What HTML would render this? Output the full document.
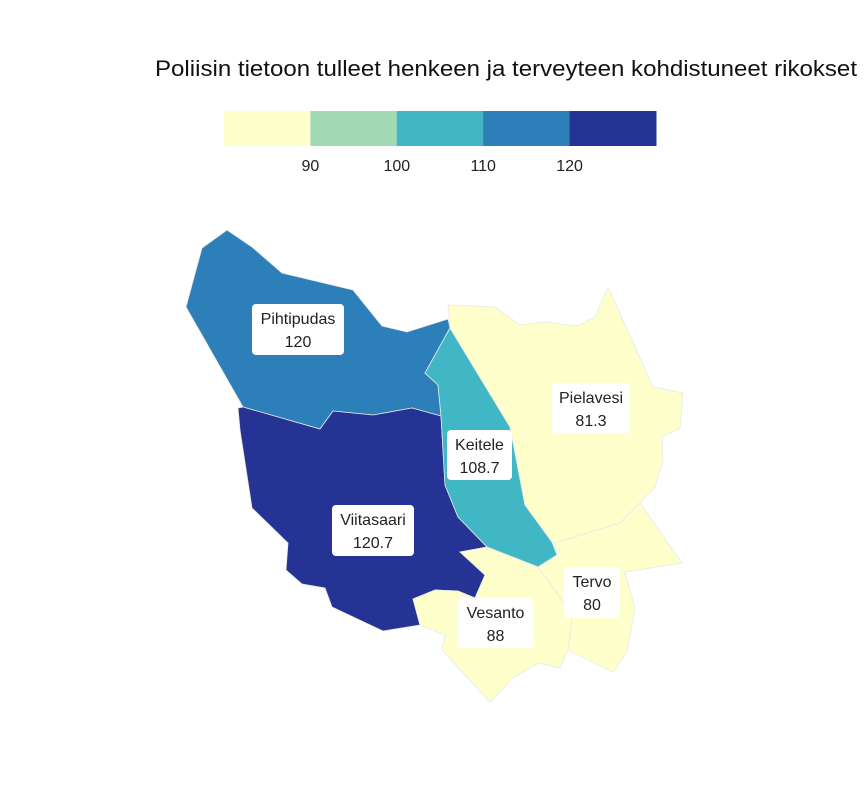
<!DOCTYPE html>
<html><head><meta charset="utf-8"><style>
body{margin:0;background:#fff;font-family:"Liberation Sans",sans-serif}
svg text{font-family:"Liberation Sans",sans-serif}
</style></head><body>
<svg id="c" width="864" height="792" viewBox="0 0 864 792">
<text x="155" y="76" font-size="22" fill="#111" textLength="702" lengthAdjust="spacingAndGlyphs">Poliisin tietoon tulleet henkeen ja terveyteen kohdistuneet rikokset</text>
<g id="legend"></g>
<g id="map"></g>
<g id="labels"></g>
</svg>
<script>
const regions=["Pihtipudas","Viitasaari","Keitele","Pielavesi","Tervo","Vesanto"];
const values=[120,120.7,108.7,81.3,80,88];
const thresholds=[90,100,110,120];
const colors=["#ffffcc","#a1dab4","#41b6c4","#2c7fb8","#253494"];
const shapes={
Pihtipudas:[[227,230],[202,248],[186,307],[243,407],[320,429],[333,411],[373,415],[412,408],[441,416],[438,385],[425,373],[450,328],[448,319],[407,332],[382,326],[353,290],[282,273],[252,247]],
Viitasaari:[[238,408],[240,430],[252,508],[288,543],[286,570],[302,584],[325,588],[332,607],[383,631],[420,625],[413,599],[435,590],[458,591],[475,598],[485,575],[460,552],[487,547],[458,517],[445,485],[441,416],[412,408],[373,415],[333,411],[320,429],[243,407]],
Keitele:[[450,328],[425,373],[438,385],[441,416],[445,485],[458,517],[487,547],[538,567],[557,555],[552,542],[525,505],[510,427]],
Pielavesi:[[448,305],[495,307],[520,325],[545,322],[577,326],[595,317],[608,287],[653,387],[683,393],[680,428],[662,437],[663,460],[655,487],[640,503],[620,523],[555,543],[552,542],[525,505],[510,427],[450,328]],
Tervo:[[555,543],[620,523],[640,503],[682,563],[625,572],[635,608],[627,652],[613,672],[568,650],[572,617],[557,593],[538,567],[557,555]],
Vesanto:[[487,547],[538,567],[557,593],[572,617],[568,650],[560,668],[538,663],[513,678],[490,702],[442,650],[445,635],[420,625],[413,599],[435,590],[458,591],[475,598],[485,575],[460,552]]
};
const labelBoxes={Pihtipudas:[252,304,92,51],Viitasaari:[332,505,82,51],Keitele:[447,430,65,50],Pielavesi:[552,383,78,50],Tervo:[564,567,56,51],Vesanto:[458,598,75,50]};
const NS="http://www.w3.org/2000/svg";
function color(v){let i=0;while(i<thresholds.length&&v>thresholds[i])i++;return colors[i];}
const lx0=224,lw=432,segW=lw/colors.length;
function legendX(t){return lx0+segW*(thresholds.indexOf(t)+1);}
const leg=document.getElementById('legend');
colors.forEach((c,i)=>{const r=document.createElementNS(NS,'rect');
r.setAttribute('x',lx0+i*segW);r.setAttribute('y',111);r.setAttribute('width',segW+0.5);r.setAttribute('height',35);r.setAttribute('fill',c);


leg.appendChild(r);});
thresholds.forEach(t=>{const tx=document.createElementNS(NS,'text');
tx.setAttribute('x',legendX(t));tx.setAttribute('y',171);tx.setAttribute('text-anchor','middle');tx.setAttribute('font-size','16');tx.setAttribute('fill','#222');tx.textContent=t;


leg.appendChild(tx);});
const map=document.getElementById('map'),lab=document.getElementById('labels');
regions.forEach((r,i)=>{const p=document.createElementNS(NS,'polygon');
p.setAttribute('points',shapes[r].map(q=>q.join(',')).join(' '));
p.setAttribute('fill',color(values[i]));p.setAttribute('stroke','#e8e8e8');p.setAttribute('stroke-width','0.8');


map.appendChild(p);
const b=labelBoxes[r];const g=document.createElementNS(NS,'g');


const rc=document.createElementNS(NS,'rect');rc.setAttribute('x',b[0]);rc.setAttribute('y',b[1]);rc.setAttribute('width',b[2]);rc.setAttribute('height',b[3]);rc.setAttribute('rx',4);rc.setAttribute('fill','#fff');g.appendChild(rc);
const cx=b[0]+b[2]/2;
[r,String(values[i])].forEach((s,k)=>{const t=document.createElementNS(NS,'text');t.setAttribute('x',cx);t.setAttribute('y',b[1]+20+k*23);t.setAttribute('text-anchor','middle');t.setAttribute('font-size','16');t.setAttribute('fill','#222');t.textContent=s;g.appendChild(t);});
lab.appendChild(g);});
</script>
</body></html>
